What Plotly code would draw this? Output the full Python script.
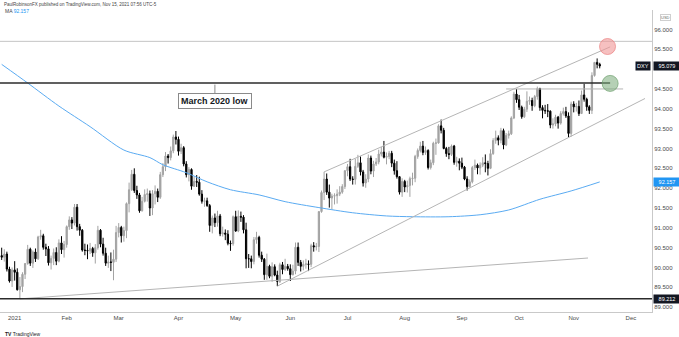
import pandas as pd
import plotly.graph_objects as go

# ---------------- data ----------------
trade_dates = [d for d in pd.bdate_range("2020-12-24", "2021-11-15")
               if d.strftime("%Y-%m-%d") not in ("2020-12-25", "2021-01-01")]

open_dec = [90.30, 90.26, 90.34, 89.96, 89.66]
high_dec = [90.50, 90.46, 90.40, 90.02, 90.00]
low_dec = [90.19, 90.15, 89.90, 89.62, 89.51]
close_dec = [90.26, 90.34, 89.96, 89.66, 89.94]

open_jan = [89.94, 89.88, 89.44, 89.52, 89.83, 90.10, 90.46, 90.11, 90.39, 90.22, 90.77, 90.80, 90.51, 90.47, 90.12, 90.23, 90.38, 90.16, 90.62, 90.45]
high_jan = [90.16, 89.98, 89.76, 89.88, 90.11, 90.57, 90.50, 90.43, 90.48, 90.80, 90.95, 90.85, 90.60, 90.54, 90.30, 90.48, 90.51, 90.71, 90.79, 90.67]
low_jan = [89.67, 89.42, 89.21, 89.38, 89.71, 90.07, 90.04, 89.99, 90.14, 90.19, 90.70, 90.45, 90.29, 90.05, 89.95, 90.06, 90.06, 90.13, 90.34, 90.25]
close_jan = [89.88, 89.44, 89.52, 89.83, 90.10, 90.46, 90.11, 90.39, 90.22, 90.77, 90.80, 90.51, 90.47, 90.12, 90.23, 90.38, 90.16, 90.62, 90.45, 90.58]

open_feb = [90.58, 91.03, 91.20, 91.12, 91.52, 91.03, 90.94, 90.44, 90.43, 90.42, 90.48, 90.37, 90.50, 90.94, 90.59, 90.36, 90.11, 90.14, 90.13, 90.21]
high_feb = [91.06, 91.29, 91.27, 91.60, 91.60, 91.10, 90.97, 90.60, 90.58, 90.62, 90.52, 90.59, 91.05, 90.97, 90.75, 90.50, 90.30, 90.38, 90.45, 91.05]
low_feb = [90.50, 90.95, 90.97, 91.06, 90.93, 90.80, 90.40, 90.31, 90.21, 90.34, 90.27, 90.10, 90.45, 90.51, 90.30, 90.04, 89.99, 89.91, 89.68, 90.14]
close_feb = [91.03, 91.20, 91.12, 91.52, 91.03, 90.94, 90.44, 90.43, 90.42, 90.48, 90.37, 90.50, 90.94, 90.59, 90.36, 90.11, 90.14, 90.13, 90.21, 90.88]

open_mar = [90.88, 91.01, 90.80, 90.93, 91.61, 91.96, 92.35, 91.94, 91.83, 91.43, 91.67, 91.84, 91.86, 91.50, 91.86, 91.92, 91.77, 92.34, 92.54, 92.81, 92.77, 92.94, 93.29]
high_mar = [91.12, 91.05, 91.03, 91.64, 92.14, 92.46, 92.50, 92.06, 91.88, 91.78, 91.97, 91.99, 91.94, 91.95, 92.07, 91.99, 92.41, 92.63, 92.91, 92.86, 93.05, 93.35, 93.44]
low_mar = [90.76, 90.63, 90.65, 90.74, 91.39, 91.93, 91.88, 91.73, 91.38, 91.41, 91.64, 91.66, 91.30, 91.32, 91.59, 91.65, 91.73, 92.28, 92.43, 92.62, 92.70, 92.88, 93.10]
close_mar = [91.01, 90.80, 90.93, 91.61, 91.96, 92.35, 91.94, 91.83, 91.43, 91.67, 91.84, 91.86, 91.50, 91.86, 91.92, 91.77, 92.34, 92.54, 92.81, 92.77, 92.94, 93.29, 93.23]

open_apr = [93.23, 92.93, 93.02, 92.61, 92.34, 92.47, 92.05, 92.17, 92.15, 91.85, 91.67, 91.68, 91.56, 91.06, 91.25, 91.13, 91.30, 90.85, 90.87, 90.84, 90.61, 90.60]
high_apr = [93.30, 93.12, 93.06, 92.68, 92.53, 92.50, 92.29, 92.33, 92.29, 91.95, 91.76, 91.76, 91.60, 91.31, 91.36, 91.43, 91.35, 91.03, 90.96, 90.94, 90.68, 91.31]
low_apr = [92.82, 92.86, 92.55, 92.27, 92.17, 91.96, 92.03, 92.03, 91.81, 91.61, 91.53, 91.53, 90.90, 90.86, 91.02, 91.03, 90.79, 90.78, 90.69, 90.56, 90.42, 90.55]
close_apr = [92.93, 93.02, 92.61, 92.34, 92.47, 92.05, 92.17, 92.15, 91.85, 91.67, 91.68, 91.56, 91.06, 91.25, 91.13, 91.30, 90.85, 90.87, 90.84, 90.61, 90.60, 91.28]

open_may = [91.28, 90.92, 91.29, 91.27, 90.95, 90.22, 90.22, 90.15, 90.70, 90.76, 90.31, 90.21, 89.82, 90.03, 89.78, 90.02, 89.81, 89.65, 90.07, 89.95, 90.03]
high_may = [91.43, 91.44, 91.41, 91.32, 91.13, 90.34, 90.30, 90.77, 90.90, 90.80, 90.40, 90.24, 90.35, 90.07, 90.13, 90.08, 89.92, 90.12, 90.14, 90.22, 90.09]
low_may = [90.90, 90.89, 91.15, 90.86, 89.98, 89.99, 89.98, 90.08, 90.60, 90.25, 90.14, 89.69, 89.69, 89.73, 89.64, 89.78, 89.53, 89.61, 89.83, 89.91, 89.92]
close_may = [90.92, 91.29, 91.27, 90.95, 90.22, 90.22, 90.15, 90.70, 90.76, 90.31, 90.21, 89.82, 90.03, 89.78, 90.02, 89.81, 89.65, 90.07, 89.95, 90.03, 89.97]

open_jun = [89.97, 89.82, 89.91, 90.51, 90.13, 90.03, 90.08, 90.09, 90.08, 90.55, 90.52, 90.53, 91.41, 91.89, 92.23, 91.90, 91.75, 91.80, 91.81, 91.85, 91.90, 92.04]
high_jun = [90.08, 90.07, 90.63, 90.63, 90.19, 90.18, 90.22, 90.18, 90.60, 90.64, 90.62, 91.41, 91.94, 92.41, 92.37, 92.09, 91.86, 91.87, 91.97, 92.05, 92.10, 92.45]
low_jun = [89.66, 89.80, 89.83, 90.04, 89.90, 89.93, 89.97, 89.91, 90.01, 90.40, 90.43, 90.39, 91.38, 91.70, 91.83, 91.51, 91.46, 91.59, 91.61, 91.80, 91.86, 91.98]
close_jun = [89.82, 89.91, 90.51, 90.13, 90.03, 90.08, 90.09, 90.08, 90.55, 90.52, 90.53, 91.41, 91.89, 92.23, 91.90, 91.75, 91.80, 91.81, 91.85, 91.90, 92.04, 92.44]

open_jul = [92.44, 92.54, 92.23, 92.22, 92.55, 92.64, 92.41, 92.13, 92.23, 92.76, 92.43, 92.61, 92.66, 92.86, 92.91, 92.78, 92.80, 92.88, 92.63, 92.44, 92.29, 91.90]
high_jul = [92.61, 92.74, 92.30, 92.74, 92.84, 92.80, 92.46, 92.35, 92.85, 92.82, 92.69, 92.76, 92.97, 93.04, 93.19, 92.90, 92.94, 92.94, 92.72, 92.68, 92.30, 92.25]
low_jul = [92.30, 92.18, 92.09, 92.09, 92.51, 92.32, 92.04, 92.01, 92.15, 92.35, 92.28, 92.56, 92.60, 92.80, 92.75, 92.60, 92.73, 92.53, 92.34, 92.24, 91.84, 91.78]
close_jul = [92.54, 92.23, 92.22, 92.55, 92.64, 92.41, 92.13, 92.23, 92.76, 92.43, 92.61, 92.66, 92.86, 92.91, 92.78, 92.80, 92.88, 92.63, 92.44, 92.29, 91.90, 92.17]

open_aug = [92.17, 92.03, 92.07, 92.24, 92.25, 92.80, 92.95, 93.06, 92.90, 92.95, 92.52, 92.64, 93.13, 93.14, 93.57, 93.46, 93.00, 92.87, 92.85, 93.06, 92.65, 92.68]
high_aug = [92.21, 92.19, 92.29, 92.39, 92.84, 93.00, 93.17, 93.19, 93.05, 92.98, 92.72, 93.17, 93.25, 93.61, 93.73, 93.52, 93.04, 93.04, 93.10, 93.09, 92.79, 92.75]
low_aug = [91.90, 91.89, 91.78, 92.07, 92.15, 92.74, 92.90, 92.83, 92.84, 92.47, 92.47, 92.58, 92.84, 93.12, 93.38, 92.98, 92.79, 92.73, 92.81, 92.59, 92.54, 92.45]
close_aug = [92.03, 92.07, 92.24, 92.25, 92.80, 92.95, 93.06, 92.90, 92.95, 92.52, 92.64, 93.13, 93.14, 93.57, 93.46, 93.00, 92.87, 92.85, 93.06, 92.65, 92.68, 92.63]

open_sep = [92.63, 92.53, 92.23, 92.04, 92.16, 92.52, 92.58, 92.51, 92.58, 92.64, 92.62, 92.50, 92.87, 93.20, 93.27, 93.21, 93.45, 93.09, 93.33, 93.37, 93.77, 94.37]
high_sep = [92.77, 92.56, 92.30, 92.22, 92.56, 92.72, 92.62, 92.65, 92.78, 92.85, 92.69, 92.98, 93.26, 93.45, 93.33, 93.52, 93.50, 93.39, 93.45, 93.81, 94.43, 94.50]
low_sep = [92.48, 92.20, 91.94, 92.02, 92.12, 92.46, 92.35, 92.34, 92.53, 92.40, 92.32, 92.48, 92.84, 93.12, 93.08, 93.13, 92.98, 93.06, 93.25, 93.34, 93.74, 94.15]
close_sep = [92.53, 92.23, 92.04, 92.16, 92.52, 92.58, 92.51, 92.58, 92.64, 92.62, 92.50, 92.87, 93.20, 93.27, 93.21, 93.45, 93.09, 93.33, 93.37, 93.77, 94.37, 94.23]

open_oct = [94.23, 94.04, 93.80, 93.99, 94.19, 94.21, 94.08, 94.31, 94.51, 94.03, 93.96, 93.95, 93.94, 93.59, 93.62, 93.79, 93.64, 93.88, 93.93, 93.82, 93.38]
high_oct = [94.35, 94.08, 94.05, 94.44, 94.31, 94.28, 94.35, 94.56, 94.53, 94.09, 94.10, 94.12, 93.96, 93.76, 93.85, 93.82, 93.94, 94.03, 94.05, 93.91, 94.18]
low_oct = [93.97, 93.75, 93.77, 93.92, 94.10, 93.95, 94.04, 94.23, 93.95, 93.76, 93.87, 93.79, 93.51, 93.50, 93.56, 93.50, 93.60, 93.83, 93.77, 93.28, 93.30]
close_oct = [94.04, 93.80, 93.99, 94.19, 94.21, 94.08, 94.31, 94.51, 94.03, 93.96, 93.95, 93.94, 93.59, 93.62, 93.79, 93.64, 93.88, 93.93, 93.82, 93.38, 94.12]

open_nov = [94.12, 94.05, 94.06, 93.88, 94.35, 94.24, 94.05, 93.96, 94.84, 95.17, 95.12]
high_nov = [94.19, 94.15, 94.21, 94.46, 94.63, 94.28, 94.09, 94.92, 95.18, 95.27, 95.16]
low_nov = [93.91, 93.93, 93.82, 93.87, 94.18, 93.95, 93.87, 93.87, 94.81, 95.02, 95.02]
close_nov = [94.05, 94.06, 93.88, 94.35, 94.24, 94.05, 93.96, 94.84, 95.17, 95.12, 95.079]

opens = open_dec + open_jan + open_feb + open_mar + open_apr + open_may + open_jun + open_jul + open_aug + open_sep + open_oct + open_nov
highs = high_dec + high_jan + high_feb + high_mar + high_apr + high_may + high_jun + high_jul + high_aug + high_sep + high_oct + high_nov
lows = low_dec + low_jan + low_feb + low_mar + low_apr + low_may + low_jun + low_jul + low_aug + low_sep + low_oct + low_nov
closes = close_dec + close_jan + close_feb + close_mar + close_apr + close_may + close_jun + close_jul + close_aug + close_sep + close_oct + close_nov
assert len(opens) == len(highs) == len(lows) == len(closes) == len(trade_dates)

# 200-day moving average, read at sample dates
ma_dates = ["2020-12-24", "2021-01-11", "2021-01-27", "2021-02-12", "2021-03-03", "2021-03-17",
            "2021-03-24", "2021-04-06", "2021-04-16", "2021-04-29", "2021-05-14", "2021-05-28",
            "2021-06-16", "2021-07-05", "2021-07-22", "2021-08-05", "2021-08-25", "2021-09-10",
            "2021-09-27", "2021-10-13", "2021-10-29", "2021-11-15"]
ma_values = [95.12, 94.65, 94.07, 93.55, 92.96, 92.77,
             92.59, 92.39, 92.16, 91.96, 91.83, 91.66,
             91.51, 91.38, 91.30, 91.28, 91.28, 91.33,
             91.45, 91.72, 91.93, 92.157]

# levels and trend lines (date, price)
march_2020_low = 94.65
june_2020_low = 95.70
year_low = 89.212
oct_high = 94.50
last_price = 95.079
ma_last = 92.157
long_support = [("2021-01-06", 89.21), ("2021-11-08 12:00", 90.24)]
channel_low = [("2021-05-25", 89.53), ("2021-12-08 10:00", 94.26)]
channel_high = [("2021-06-18", 92.41), ("2021-11-19", 95.56)]
oct_high_span = ["2021-09-24", "2021-11-26"]
circle_red = ("2021-11-18", 95.57)
circle_green = ("2021-11-19", 94.64)

month_ticks = ["2021-01-04", "2021-02-01", "2021-03-01", "2021-04-01", "2021-05-03", "2021-06-01",
               "2021-07-01", "2021-08-02", "2021-09-01", "2021-10-01", "2021-11-01", "2021-12-01"]
month_labels = ["2021", "Feb", "Mar", "Apr", "May", "Jun", "Jul", "Aug", "Sep", "Oct", "Nov", "Dec"]
price_ticks = [89.0, 89.5, 90.0, 90.5, 91.0, 91.5, 92.0, 92.5, 93.0, 93.5, 94.0, 94.5, 95.5, 96.0]

x_range = ["2020-12-23 08:30", "2021-12-13 02:30"]
y_range = [88.879, 96.49]

FONT = "Liberation Sans"
AXIS_TXT = "#4a4a4a"

# ---------------- figure ----------------
fig = go.Figure()

fig.add_trace(go.Scatter(
    x=ma_dates, y=ma_values, mode="lines",
    line=dict(color="#5aabf2", width=1, shape="spline", smoothing=0.8),
    hoverinfo="skip"))

fig.add_trace(go.Candlestick(
    x=trade_dates, open=opens, high=highs, low=lows, close=closes,
    increasing=dict(line=dict(color="#a3a3a3", width=1), fillcolor="#a3a3a3"),
    decreasing=dict(line=dict(color="#000000", width=1), fillcolor="#000000"),
    whiskerwidth=0))

shapes = []
def seg(p0, p1, color, width):
    shapes.append(dict(type="line", xref="x", yref="y", x0=p0[0], y0=p0[1], x1=p1[0], y1=p1[1],
                       line=dict(color=color, width=width), layer="above"))

seg(long_support[0], long_support[1], "#b5b5b5", 1)
seg(channel_low[0], channel_low[1], "#b5b5b5", 1)
seg(channel_high[0], channel_high[1], "#b5b5b5", 1)
seg((oct_high_span[0], oct_high), (oct_high_span[1], oct_high), "#b5b5b5", 1)
seg((x_range[0], march_2020_low), (circle_green[0], march_2020_low), "#2b2b2b", 1.5)
shapes.append(dict(type="line", xref="paper", yref="y", x0=0, x1=1, y0=june_2020_low, y1=june_2020_low,
                   line=dict(color="#c4c4c4", width=1)))
shapes.append(dict(type="line", xref="paper", yref="y", x0=0, x1=1, y0=year_low, y1=year_low,
                   line=dict(color="#2b2b2b", width=1.5)))
for (cx, cy), fill, edge in [(circle_red, "rgba(240,150,150,0.6)", "rgba(235,130,130,0.7)"),
                             (circle_green, "rgba(120,170,120,0.55)", "rgba(110,160,110,0.7)")]:
    shapes.append(dict(type="circle", xref="x", yref="y", xsizemode="pixel", ysizemode="pixel",
                       xanchor=cx, yanchor=cy, x0=-8, x1=8, y0=-8, y1=8,
                       fillcolor=fill, line=dict(color=edge, width=1), layer="above"))

annotations = [
    dict(xref="x", yref="y", x="2021-04-21", y=march_2020_low - 0.04, text="<b>March 2020 low</b>",
         showarrow=True, arrowhead=0, arrowcolor="#8a8a8a", arrowwidth=1, ax=0, ay=16,
         font=dict(family=FONT, size=9, color="#131722"), bgcolor="white",
         bordercolor="#8a8a8a", borderwidth=1, borderpad=2),
    dict(xref="paper", yref="paper", x=0.003, y=1, xanchor="left", yanchor="bottom", yshift=1,
         text="PaulRobinsonFX published on TradingView.com, Nov 15, 2021 07:56 UTC-5",
         showarrow=False, font=dict(family=FONT, size=4.5, color="#444")),
    dict(xref="paper", yref="paper", x=0.005, y=1, xanchor="left", yanchor="top", yshift=4,
         text="MA <span style='color:#2196f3'>" + f"{ma_last:.3f}" + "</span>",
         showarrow=False, font=dict(family=FONT, size=5, color="#444")),
    dict(xref="paper", yref="paper", x=0.005, y=0, xanchor="left", yanchor="top", yshift=-17,
         text="<b>TV</b> TradingView", showarrow=False, font=dict(family=FONT, size=5, color="#222")),
    dict(xref="paper", yref="paper", x=1, y=1, xanchor="left", yanchor="top", xshift=8, yshift=-4,
         text="USD", showarrow=False, bordercolor="#cfcfcf", borderwidth=1, borderpad=0,
         font=dict(family=FONT, size=4, color="#666")),
    dict(xref="paper", yref="y", x=1, y=last_price, xanchor="left", xshift=1, text=f"{last_price:.3f}",
         showarrow=False, bgcolor="#131722", width=24, borderpad=1,
         font=dict(family=FONT, size=5.5, color="white")),
    dict(xref="paper", yref="y", x=1, y=last_price, xanchor="right", xshift=-1, text="DXY",
         showarrow=False, bgcolor="#131722", borderpad=1,
         font=dict(family=FONT, size=5.5, color="white")),
    dict(xref="paper", yref="y", x=1, y=ma_last, xanchor="left", xshift=1, text=f"{ma_last:.3f}",
         showarrow=False, bgcolor="#2196f3", width=24, borderpad=1,
         font=dict(family=FONT, size=5.5, color="white")),
    dict(xref="paper", yref="y", x=1, y=year_low, xanchor="left", xshift=1, text=f"{year_low:.3f}",
         showarrow=False, bgcolor="#131722", width=24, borderpad=1,
         font=dict(family=FONT, size=5.5, color="white")),
]

fig.update_layout(
    width=679, height=337, margin=dict(l=0, r=27, t=10, b=25),
    paper_bgcolor="white", plot_bgcolor="white", showlegend=False,
    shapes=shapes, annotations=annotations,
    xaxis=dict(type="date", range=x_range,
               rangebreaks=[dict(bounds=["sat", "mon"]), dict(values=["2020-12-25", "2021-01-01"])],
               rangeslider=dict(visible=False), showgrid=False, zeroline=False,
               tickvals=month_ticks, ticktext=month_labels, ticks="",
               tickfont=dict(family=FONT, size=6, color=AXIS_TXT),
               showline=True, linecolor="#c9c9c9", linewidth=1),
    yaxis=dict(side="right", range=y_range, tickvals=price_ticks, tickformat=".3f",
               showgrid=False, zeroline=False, ticks="",
               tickfont=dict(family=FONT, size=6, color=AXIS_TXT),
               showline=True, linecolor="#c9c9c9", linewidth=1),
)

fig.write_html("out.html")
